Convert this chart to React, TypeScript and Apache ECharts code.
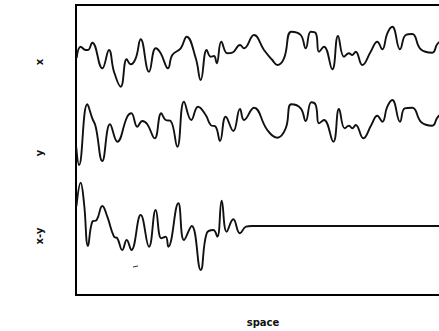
import React, { useEffect, useRef } from "react";
import * as echarts from "echarts";

// Trace "x": position along space, amplitude
const xSpace = [0.7, 4.7, 9.7, 12, 16.3, 26.3, 33, 38, 44.7, 50.7, 54.7, 59.7, 64.7, 73, 79.7, 84.7, 92, 96.3, 104.7, 110.7, 119.7, 124.7, 130.7, 134.7, 138, 140.7, 145.3, 151.3, 156.3, 164, 168, 178, 188, 196.3, 201.3, 208, 215.3, 224.7, 229.7, 234.7, 239.7, 243, 248, 256.3, 262, 268, 273, 276.3, 279.7, 286.3, 294.7, 301.3, 306.3, 311.3, 316.3, 324, 329.7, 336.3, 344.7, 356.3, 361.3, 366];
const xValues = [-3, 8.3, 5, 5, 12.3, -13.3, 5, -16.7, -31.7, -4.3, -9.3, -3.3, 15.7, -16.7, 6.7, 1.7, -13.3, 0, 6.7, 18.3, -3, -25, 5, -1.7, -1, -8.3, 13.3, 1.7, 2.3, 10, 6.7, 20, 5, -5, -10, -3.3, 23.3, 20, 6.7, 23.3, 22, 3.3, 8.3, -14.3, 19, -1.7, 1.7, 0, 3.3, -10, 3.3, 13.3, 5.7, 21.7, 28.3, 5.7, 20, 21, 5.7, 2.3, 11, 15];

// Trace "y"
const ySpace = [0.3, 3, 11.3, 16.3, 19.7, 26.3, 34, 41.3, 51.3, 55.3, 61.3, 66.3, 71.3, 78.7, 85.3, 89.7, 94.7, 101.3, 108, 115.3, 122, 129.7, 134.7, 139.7, 144, 149.7, 157.3, 164, 168, 178, 191.3, 201.3, 209.7, 215.3, 224.7, 229.7, 235.3, 239.7, 243, 248, 257.3, 263, 268.7, 273, 276.3, 279.7, 287.3, 295.3, 301.3, 306.3, 311.3, 316.3, 324, 328.7, 336.3, 345.3, 356.3, 361.3, 366];
const yValues = [-20, -37.3, 23.4, 9.4, 1, -33.3, 3.4, -14, 11, 14.4, 1, 6.7, 3.4, -10.6, 14.4, 7.7, 6.7, -19, 26, 7.7, 21, 12.7, 2.7, 1, -13.3, 11, -3.3, 18.7, 7.7, 20, -2.3, -10, -0.6, 23.4, 19.4, 6.7, 25.4, 22.7, 4.4, 7.7, -14, 18.7, -0.6, 2, -0.6, 2.7, -10.6, 2.7, 12, 6, 21, 27.7, 6, 19.4, 20, 5.4, 2, 10, 14.7];

// Trace "x-y"
const xySpace = [0.5, 4.7, 8, 12, 16.3, 20.7, 26.3, 31.3, 38, 41.3, 46.3, 50.7, 55.3, 64.7, 73, 79.7, 85.3, 89.7, 92.3, 102.3, 108, 115.7, 124.7, 130.7, 137.3, 141.3, 145.7, 150.7, 157.3, 164, 170, 176, 366];
const xyValues = [20, 43.3, 23, -20, 4.3, 6, 20, 9.3, -10.7, -12.3, -24, -14, -24, 11, -20.7, 16, -12.3, -10.7, -20.7, 22.7, -14, 0, -44, -7.3, -4, -10.7, 25.3, -5.7, 6.7, -7.3, -0.7, 0, 0];

const traceLabels = ["x", "y", "x-y"];
const xAxisTitle = "space";

export default function App() {
  const ref = useRef<HTMLDivElement>(null);
  useEffect(() => {
    if (!ref.current) return;
    const chart = echarts.init(ref.current, null, { renderer: "svg" });
    const offsets = [240, 167.3, 69];
    const build = (sp: number[], vals: number[], off: number) =>
      sp.map((s, i) => [s, vals[i] + off]);
    const lineStyle = { color: "#111", width: 1.9 };
    const mk = (name: string, data: number[][]) => ({
      name,
      type: "line",
      data,
      showSymbol: false,
      smooth: 0.45,
      lineStyle,
      silent: true,
    });
    const labelFont = {
      fontFamily: "DejaVu Sans",
      fontWeight: "bold",
      fontSize: 10,
      fill: "#111",
    };
    chart.setOption({
      animation: false,
      grid: {
        left: 76,
        top: 5,
        bottom: 36,
        right: 14,
        show: true,
        borderColor: "#000",
        borderWidth: 2,
        backgroundColor: "transparent",
      },
      xAxis: {
        type: "value",
        min: 0,
        max: 370,
        show: false,
      },
      yAxis: {
        type: "value",
        min: 0,
        max: 290,
        show: false,
      },
      series: [
        mk(traceLabels[0], build(xSpace, xValues, offsets[0])),
        mk(traceLabels[1], build(ySpace, yValues, offsets[1])),
        mk(traceLabels[2], build(xySpace, xyValues, offsets[2])),
      ],
      graphic: [
        { type: "text", x: 39, y: 62, rotation: Math.PI / 2, style: { text: traceLabels[0], textAlign: "center", textVerticalAlign: "middle", ...labelFont } },
        { type: "text", x: 39, y: 153, rotation: Math.PI / 2, style: { text: traceLabels[1], textAlign: "center", textVerticalAlign: "middle", ...labelFont } },
        { type: "text", x: 39, y: 236, rotation: Math.PI / 2, style: { text: traceLabels[2], textAlign: "center", textVerticalAlign: "middle", ...labelFont } },
        { type: "text", x: 263, y: 322, style: { text: xAxisTitle, textAlign: "center", textVerticalAlign: "middle", ...labelFont, fontSize: 10 } },
        { type: "line", shape: { x1: 133, y1: 267, x2: 138, y2: 266 }, style: { stroke: "#333", lineWidth: 1 } },
      ],
    });
    return () => chart.dispose();
  }, []);
  return (
    <div
      ref={ref}
      style={{ position: "fixed", left: 0, top: 0, width: 460, height: 331, background: "#fff" }}
    />
  );
}
